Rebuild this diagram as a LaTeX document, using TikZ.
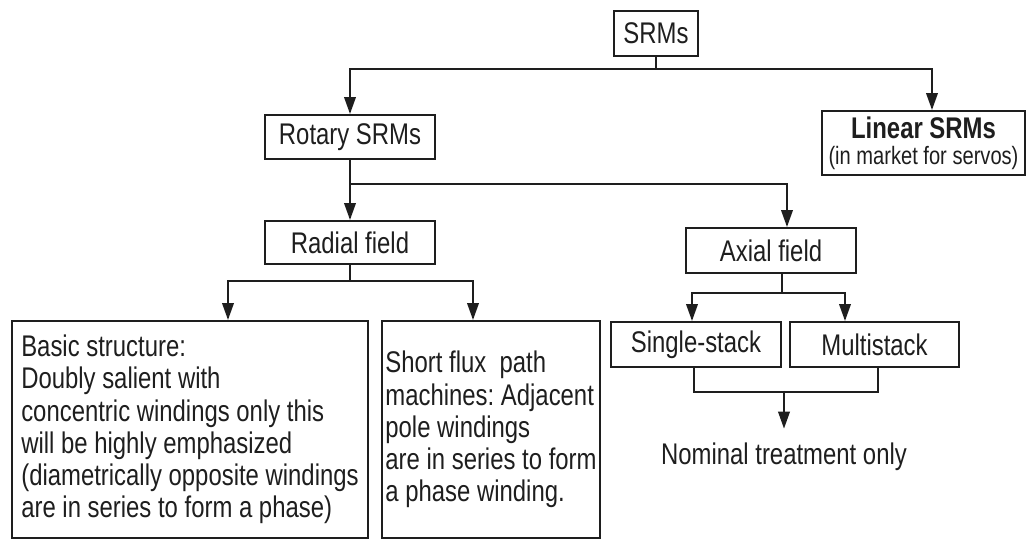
\documentclass[tikz,border=0pt]{standalone}
\usepackage{fontspec}
\setmainfont{Liberation Sans}[FakeStretch=0.8]
\usetikzlibrary{arrows.meta, positioning, calc}
\definecolor{srmink}{HTML}{1E1E1E}

\begin{document}
\begin{tikzpicture}[
  every node/.style={font=\fontsize{17}{18.3}\selectfont, text=srmink},
  typebox/.style={rectangle, draw=srmink, line width=1.1pt, minimum width=#1, minimum height=0.9cm, inner sep=0pt, align=center},
  textbox/.style={rectangle, draw=srmink, line width=1.1pt, minimum width=#1, minimum height=4.34cm, inner sep=0pt, align=left},
  branch/.style={-{Triangle[length=3.4mm, width=2.3mm]}, draw=srmink, line width=1.2pt},
  link/.style={draw=srmink, line width=1.2pt},
]
\useasboundingbox (0,0) rectangle (20.54,-10.8);

% Top level
\node[typebox=1.68cm] (srms) at (13.12, -0.67) {SRMs};
\node[typebox=3.4cm, minimum height=0.88cm] (rotary) at (7.0, -2.74) {Rotary SRMs};
\node[typebox=4.06cm, minimum height=1.28cm] (linear) at (18.47, -2.86) {\textbf{Linear SRMs}\\[-3.5pt]{\fontsize{14.3}{14}\selectfont (in market for servos)}};

% Field types
\node[typebox=3.4cm, minimum height=0.86cm] (radial) at (7.0, -4.85) {Radial field};
\node[typebox=3.4cm] (axial) at (15.42, -5.01) {Axial field};

% Radial field machines
\node[textbox=7.12cm] (basic) at (3.8, -8.59) {Basic structure:\\Doubly salient with\\concentric windings only this\\will be highly emphasized\\(diametrically opposite windings\\are in series to form a phase)};
\node[textbox=4.36cm] (shortflux) at (9.82, -8.59) {Short flux~ path\\machines:\ Adjacent\\pole windings\\are in series to form\\a phase winding.};

% Axial field machines
\node[typebox=3.4cm] (single) at (13.92, -6.89) {Single-stack};
\node[typebox=3.38cm] (multi) at (17.49, -6.89) {Multistack};
\node[inner ysep=8pt] (nominal) at (15.68, -9.14) {Nominal treatment only};

% Connectors
\draw[branch] (srms.south) -- ++(0,-0.24) -| (rotary.north);
\draw[branch] (srms.south) -- ++(0,-0.24) -| ($(linear.north)+(0.17,0)$);

\draw[branch] (rotary) -- (radial);
\draw[branch] (rotary.south) -- ++(0,-0.48) -| ($(axial.north)+(0.32,0)$);

\draw[branch] (radial.south) -- ++(0,-0.32) -| ($(basic.north)+(0.76,0)$);
\draw[branch] (radial.south) -- ++(0,-0.32) -| ($(shortflux.north)+(-0.36,0)$);

\draw[branch] ($(axial.south)+(0.22,0)$) -- ++(0,-0.38) -| ($(single.north)+(-0.08,0)$);
\draw[branch] ($(axial.south)+(0.22,0)$) -- ++(0,-0.38) -| ($(multi.north)+(-0.59,0)$);

% Merge to nominal
\draw[link] ($(single.south)+(-0.04,0)$) -- ++(0,-0.48) -| ($(multi.south)+(0.07,0)$);
\coordinate (merge) at (15.68, -7.82);
\draw[branch] (merge) -- (nominal);

\end{tikzpicture}
\end{document}
